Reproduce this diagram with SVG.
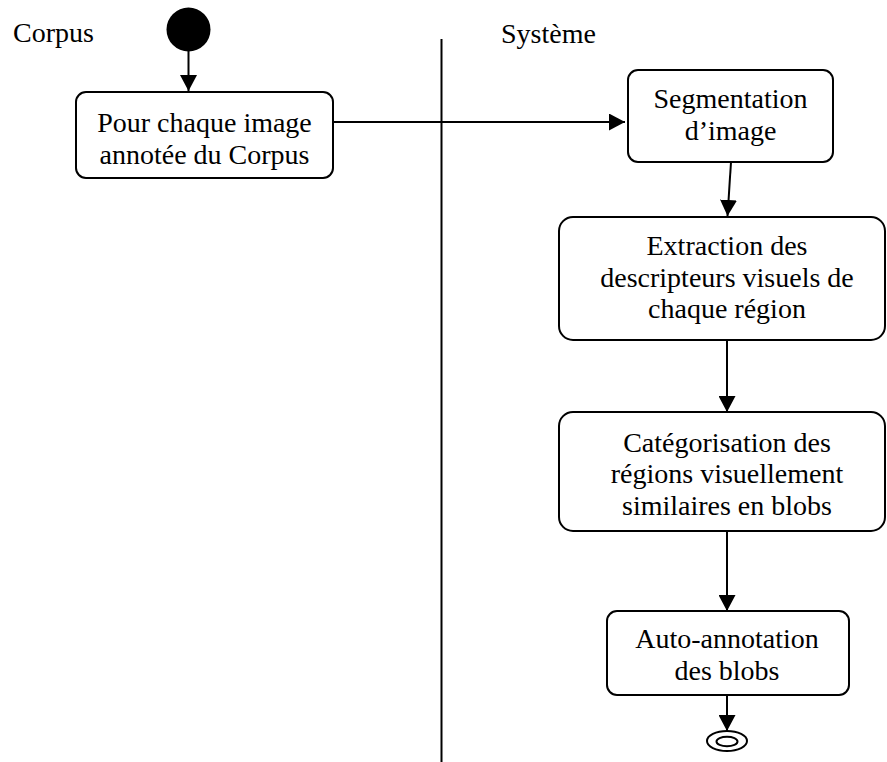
<svg xmlns="http://www.w3.org/2000/svg" width="887" height="762" viewBox="0 0 887 762">
  <style>
    .node rect { fill: #ffffff; stroke: #000000; stroke-width: 2; }
    .label { font-size: 28px; fill: #000000; }
    .mid { text-anchor: middle; }
    .edge { fill: none; stroke: #000000; stroke-width: 2; }
    .lane { stroke: #000000; stroke-width: 2; }
  </style>
  <defs>
    <marker id="arrow" markerUnits="userSpaceOnUse" markerWidth="16" markerHeight="17" refX="16" refY="8.5" orient="auto">
      <path d="M0,0 L16,8.5 L0,17 Z" fill="#000000"/>
    </marker>
  </defs>

  <rect width="887" height="762" fill="#ffffff"/>

  <g font-family="Liberation Serif, DejaVu Serif, serif">
  <!-- swimlanes -->
  <g id="lanes">
    <line class="lane" x1="441.5" y1="39" x2="441.5" y2="762"/>
    <text class="label" x="13" y="42">Corpus</text>
    <text class="label" x="501" y="43">Système</text>
  </g>

  <!-- connectors -->
  <g id="connectors">
    <line class="edge" x1="188.5" y1="51" x2="188.5" y2="91" marker-end="url(#arrow)"/>
    <line class="edge" x1="333" y1="122" x2="625" y2="122" marker-end="url(#arrow)"/>
    <line class="edge" x1="731" y1="162" x2="727.5" y2="216" marker-end="url(#arrow)"/>
    <line class="edge" x1="727" y1="340" x2="727" y2="412" marker-end="url(#arrow)"/>
    <line class="edge" x1="727" y1="531" x2="727" y2="611" marker-end="url(#arrow)"/>
    <line class="edge" x1="727" y1="695" x2="727" y2="731" marker-end="url(#arrow)"/>
  </g>

  <!-- start -->
  <g id="start">
    <circle cx="188.5" cy="29.5" r="22" fill="#000000"/>
  </g>

  <g id="pour-chaque-image" class="node">
    <rect x="76" y="92" width="257" height="86" rx="10"/>
    <text class="label mid" x="204.5" y="132">Pour chaque image</text>
    <text class="label mid" x="204.5" y="164">annotée du Corpus</text>
  </g>

  <g id="segmentation" class="node">
    <rect x="628" y="70" width="205" height="92" rx="10"/>
    <text class="label mid" x="730.5" y="108">Segmentation</text>
    <text class="label mid" x="730.5" y="140">d’image</text>
  </g>

  <g id="extraction" class="node">
    <rect x="559" y="217" width="326" height="123" rx="14"/>
    <text class="label mid" x="727" y="255">Extraction des</text>
    <text class="label mid" x="727" y="287">descripteurs visuels de</text>
    <text class="label mid" x="727" y="318">chaque région</text>
  </g>

  <g id="categorisation" class="node">
    <rect x="559" y="412" width="326" height="119" rx="14"/>
    <text class="label mid" x="727" y="452">Catégorisation des</text>
    <text class="label mid" x="727" y="483">régions visuellement</text>
    <text class="label mid" x="727" y="515">similaires en blobs</text>
  </g>

  <g id="auto-annotation" class="node">
    <rect x="607" y="611" width="242" height="84" rx="10"/>
    <text class="label mid" x="727" y="648">Auto-annotation</text>
    <text class="label mid" x="727" y="680">des blobs</text>
  </g>

  <!-- end -->
  <g id="end">
    <ellipse cx="727" cy="741" rx="20" ry="10" fill="#ffffff" stroke="#000000" stroke-width="2"/>
    <ellipse cx="727" cy="741.5" rx="10.5" ry="4.8" fill="#ffffff" stroke="#000000" stroke-width="2"/>
  </g>
  </g>
</svg>
